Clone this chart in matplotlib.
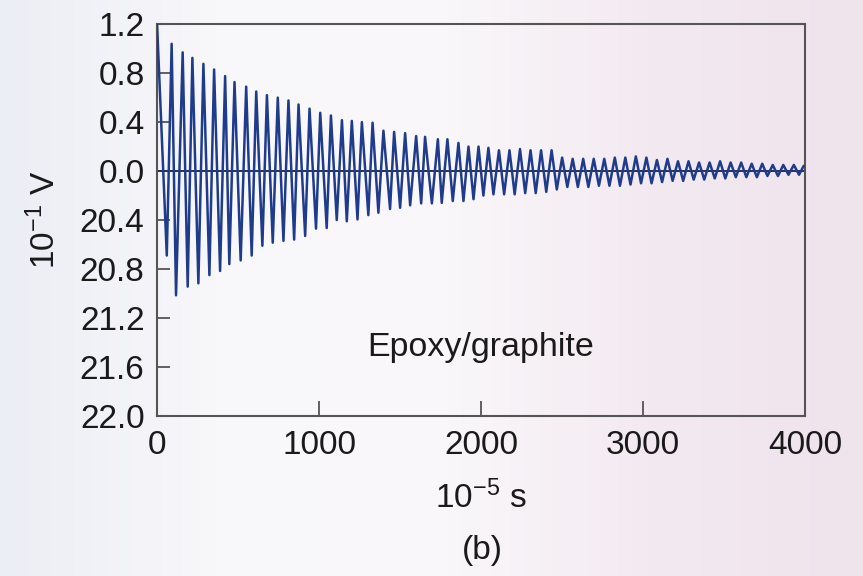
import numpy as np
import matplotlib
matplotlib.use('Agg')
import matplotlib.pyplot as plt
from matplotlib.colors import LinearSegmentedColormap

plt.rcParams['font.family'] = ['Liberation Sans', 'DejaVu Sans']
plt.rcParams['mathtext.fontset'] = 'custom'
plt.rcParams['mathtext.rm'] = 'Liberation Sans'
plt.rcParams['mathtext.it'] = 'Liberation Sans:italic'

# crestas (tiempo en 10^-5 s, tension en 10^-1 V)
t_cresta = [0, 90, 158, 218, 286, 352, 420, 478, 550, 612, 678, 745, 811, 873,
            941, 1007, 1073, 1141, 1202, 1264, 1330, 1397, 1463, 1531, 1599,
            1654, 1733, 1792, 1860, 1922, 1984, 2045,
            2110, 2175, 2240, 2305, 2370, 2435, 2500, 2565, 2630, 2695, 2760,
            2825, 2890, 2955, 3020, 3085, 3150, 3215, 3280, 3345, 3410, 3475,
            3540, 3605, 3670, 3735, 3800, 3865, 3930, 3990]
v_cresta = [1.2, 1.04, 0.97, 0.925, 0.876, 0.83, 0.776, 0.727, 0.69, 0.65,
            0.62, 0.60, 0.577, 0.544, 0.51, 0.476, 0.454, 0.416, 0.41, 0.40,
            0.395, 0.33, 0.32, 0.31, 0.286, 0.28, 0.26, 0.26, 0.23, 0.20,
            0.20, 0.19,
            0.17, 0.17, 0.18, 0.17, 0.17, 0.17, 0.11, 0.10, 0.10, 0.10, 0.10,
            0.11, 0.11, 0.12, 0.11, 0.09, 0.10, 0.08, 0.08, 0.07, 0.07, 0.08,
            0.07, 0.07, 0.06, 0.06, 0.05, 0.05, 0.05, 0.04]

# valles
t_valle = [60, 117, 189, 255, 323, 389, 446, 516, 584, 650, 714, 780, 846,
           914, 981, 1047, 1109, 1171, 1237, 1304, 1366, 1438, 1500, 1562,
           1630, 1696, 1757, 1825, 1891, 1953, 2014, 2076,
           2142, 2207, 2272, 2337, 2402, 2467, 2532, 2597, 2662, 2727, 2792,
           2857, 2922, 2987, 3052, 3117, 3182, 3247, 3312, 3377, 3442, 3507,
           3572, 3637, 3702, 3767, 3832, 3897, 3962]
v_valle = [-0.69, -1.015, -0.944, -0.917, -0.85, -0.816, -0.76, -0.73, -0.69,
           -0.61, -0.585, -0.57, -0.56, -0.53, -0.47, -0.465, -0.40, -0.41,
           -0.395, -0.36, -0.34, -0.31, -0.30, -0.28, -0.264, -0.264, -0.26,
           -0.245, -0.245, -0.23, -0.20, -0.19,
           -0.19, -0.19, -0.18, -0.18, -0.17, -0.15, -0.13, -0.13, -0.13,
           -0.12, -0.12, -0.12, -0.11, -0.10, -0.10, -0.09, -0.08, -0.08,
           -0.07, -0.07, -0.06, -0.06, -0.05, -0.05, -0.05, -0.04, -0.04,
           -0.03, -0.03]

y_ticks = [1.2, 0.8, 0.4, 0.0, -0.4, -0.8, -1.2, -1.6, -2.0]
y_labels = ['1.2', '0.8', '0.4', '0.0', '20.4', '20.8', '21.2', '21.6', '22.0']
x_ticks = [0, 1000, 2000, 3000, 4000]

# unir crestas y valles en orden de tiempo
t = np.array(t_cresta + t_valle)
v = np.array(v_cresta + v_valle)
orden = np.argsort(t)
t, v = t[orden], v[orden]

fig = plt.figure(figsize=(8.63, 5.76), dpi=100)

# fondo degradado
fondo = fig.add_axes([0, 0, 1, 1], zorder=0)
cmap = LinearSegmentedColormap.from_list(
    'fondo', ['#eceef5', '#f8f7fa', '#faf8fa', '#f3eaf1', '#efe3ec'])
fondo.imshow(np.linspace(0, 1, 256).reshape(1, -1), aspect='auto', cmap=cmap,
             extent=[0, 1, 0, 1])
fondo.axis('off')

ax = fig.add_axes([0.182, 0.278, 0.751, 0.680], zorder=1)
ax.set_facecolor('none')
ax.axhline(0, color='#233058', linewidth=1.4, zorder=2)
ax.plot(t, v, color='#1f3c8c', linewidth=1.8, zorder=3)

ax.set_xlim(0, 4000)
ax.set_ylim(-2.0, 1.2)
ax.set_xticks(x_ticks)
ax.set_xticklabels([str(x) for x in x_ticks])
ax.set_yticks(y_ticks)
ax.set_yticklabels(y_labels)
ax.tick_params(axis='x', direction='in', length=11, width=1.3, color='#555555',
               labelsize=24, pad=10, labelcolor='#1a1a1a')
ax.tick_params(axis='y', direction='in', length=9, width=1.3, color='#555555',
               labelsize=24, pad=9, labelcolor='#1a1a1a')
for lado in ax.spines.values():
    lado.set_color('#555555')
    lado.set_linewidth(1.5)

ax.set_xlabel(r'10$^{\mathrm{-5}}$ s', fontsize=24, labelpad=14, color='#1a1a1a')
ax.set_ylabel(r'10$^{\mathrm{-1}}$ V', fontsize=24, labelpad=13, color='#1a1a1a')
ax.text(2000, -1.44, 'Epoxy/graphite', fontsize=24.5, ha='center', va='center',
        color='#1a1a1a')
fig.text(0.559, 0.045, '(b)', fontsize=24, ha='center', va='center',
         color='#1a1a1a')

fig.savefig('out.png', dpi=100)
